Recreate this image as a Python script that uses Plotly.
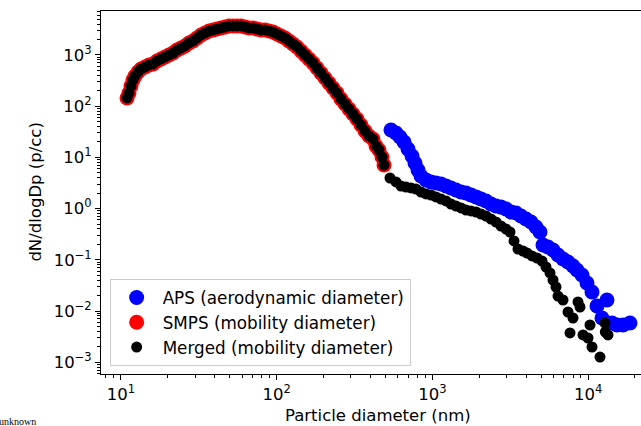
import plotly.graph_objects as go

# SMPS (mobility diameter), nm and dN/dlogDp
smps_d = [10.93, 11.25, 11.59, 11.94, 12.30, 12.86, 13.44, 14.26, 15.13, 16.05,
          17.03, 18.07, 19.17, 20.34, 21.58, 22.89, 24.29, 25.76, 27.33, 29.00,
          30.77, 32.65, 34.63, 36.75, 38.99, 41.37, 43.89, 46.56, 49.40, 52.41,
          55.61, 58.99, 62.59, 66.41, 70.46, 74.75, 79.31, 84.14, 89.27, 94.71,
          100.4, 106.6, 113.1, 120.0, 127.3, 135.0, 143.3, 152.0, 161.3, 171.1,
          181.5, 192.6, 204.3, 216.8, 230.0, 244.0, 258.8, 274.6, 291.3, 309.1,
          327.9, 347.9, 369.1, 391.6, 415.4, 434.3, 454.0, 474.6, 489.0]
smps_n = [144.6, 181.1, 248.0, 324.9, 388.9, 465.6, 532.8, 583.1, 637.9, 667.2,
          763.6, 835.4, 914.1, 1000, 1094, 1252, 1370, 1499, 1716, 1877,
          2148, 2458, 2690, 2943, 3078, 3220, 3368, 3524, 3685, 3685,
          3685, 3685, 3524, 3368, 3368, 3220, 3078, 3078, 2943, 2813,
          2572, 2350, 2148, 1877, 1640, 1433, 1197, 1000, 835.4, 698.0,
          557.2, 445.1, 355.5, 283.9, 226.7, 181.1, 138.2, 110.4, 88.2, 70.4,
          56.2, 42.9, 32.8, 26.2, 22.9, 16.7, 13.95, 10.2, 7.1]

# APS (aerodynamic diameter)
aps_d = [542, 583.9, 619.4, 657.2, 697.2, 739.6, 773.1, 808.1, 844.9, 909.8,
         979.5, 1054.6, 1135.7, 1222.8, 1316.9, 1418.0, 1526.9, 1644.2, 1770.4, 1905.5,
         2051.8, 2210.0, 2379.6, 2562.1, 2758.5, 2970.5, 3198.0, 3443.5, 3706.8, 3992.0,
         4298.2, 4628.0, 4911.0, 5133.0, 5526, 5952, 6409, 6901, 7430, 8000,
         8487, 9138, 9838, 10593, 11406, 12284, 13222, 14237, 15330, 16757, 18582]
aps_n = [34.3, 29.97, 25.0, 20.0, 14.6, 10.65, 7.78, 5.67, 4.33, 3.62,
         3.31, 3.16, 3.02, 2.76, 2.53, 2.31, 2.11, 2.02, 1.84, 1.69,
         1.54, 1.41, 1.23, 1.12, 1.07, 0.982, 0.858, 0.821, 0.717, 0.626,
         0.547, 0.437, 0.349, 0.1945, 0.178, 0.155, 0.124, 0.1036, 0.0906, 0.0757,
         0.0632, 0.0505, 0.0352, 0.0235, 0.01252, 0.0073, 0.0164, 0.00583, 0.00533, 0.00533, 0.00583]

# Merged tail (APS converted to mobility diameter)
tail_d = [534.2, 583.9, 628.6, 676.9, 728.8, 784.6, 844.9, 909.8, 979.5, 1054.6,
          1135.7, 1222.8, 1316.9, 1418, 1526.9, 1644.2, 1770.4, 1905.5, 2051.8, 2210,
          2379.6, 2562.1, 2758.5, 2970.5, 3151, 3343, 3546, 3819, 4051, 4362,
          4697, 5057, 5365, 5692, 5952, 6220, 6409, 6901, 7430, 7652,
          8000, 8612, 8872, 9275, 9986, 10285, 10593, 11926, 12837, 12900, 13422]
tail_n = [3.96, 3.31, 2.76, 2.64, 2.53, 2.41, 2.11, 1.93, 1.84, 1.69,
          1.54, 1.41, 1.23, 1.12, 1.03, 0.939, 0.898, 0.858, 0.784, 0.717,
          0.626, 0.547, 0.457, 0.399, 0.349, 0.233, 0.1625, 0.1485, 0.1358, 0.1187,
          0.1084, 0.0947, 0.0723, 0.0553, 0.0403, 0.0294, 0.0196, 0.0164, 0.00956, 0.00372,
          0.0073, 0.0150, 0.01197, 0.0034, 0.00297, 0.00533, 0.00198, 0.00126, 0.00583, 0.00389, 0.0034]

x_tickvals = [10, 100, 1000, 10000]
x_ticktext = ["10<sup>1</sup>", "10<sup>2</sup>", "10<sup>3</sup>", "10<sup>4</sup>"]
y_tickvals = [1e-3, 1e-2, 1e-1, 1, 10, 100, 1000]
y_ticktext = ["10<sup>−3</sup>", "10<sup>−2</sup>", "10<sup>−1</sup>", "10<sup>0</sup>",
              "10<sup>1</sup>", "10<sup>2</sup>", "10<sup>3</sup>"]

merged_d = smps_d + tail_d
merged_n = smps_n + tail_n

fig = go.Figure()
fig.add_trace(go.Scatter(x=aps_d, y=aps_n, mode="markers", name="APS (aerodynamic diameter)",
                         marker=dict(color="#0000ff", size=15, line=dict(width=0))))
fig.add_trace(go.Scatter(x=smps_d, y=smps_n, mode="markers", name="SMPS (mobility diameter)",
                         marker=dict(color="#ff0000", size=15, line=dict(width=0))))
fig.add_trace(go.Scatter(x=merged_d, y=merged_n, mode="markers", name="Merged (mobility diameter)",
                         marker=dict(color="#000000", size=11, line=dict(width=0))))

font = "DejaVu Sans"
fig.update_layout(
    width=641, height=426,
    margin=dict(l=101, r=0, t=11, b=52, autoexpand=False),
    paper_bgcolor="white", plot_bgcolor="white",
    font=dict(family=font, size=16, color="black"),
    showlegend=True,
    legend=dict(x=0.016, y=0.022, xanchor="left", yanchor="bottom",
                bgcolor="rgba(255,255,255,0.8)", bordercolor="#cccccc", borderwidth=1,
                font=dict(family=font, size=16.8, color="black"),
                itemsizing="trace", itemwidth=42, tracegroupgap=0),
    annotations=[
        dict(text="unknown", xref="paper", yref="paper", x=-0.192, y=-0.13,
             xanchor="left", yanchor="middle", showarrow=False,
             font=dict(family="Liberation Serif", size=10, color="black")),
        dict(text="Particle diameter (nm)", xref="paper", yref="paper", x=0.513, y=-0.113,
             xanchor="center", yanchor="middle", showarrow=False,
             font=dict(family=font, size=16.5, color="black")),
        dict(text="dN/dlogDp (p/cc)", xref="paper", yref="paper", x=-0.122, y=0.5,
             xanchor="center", yanchor="middle", showarrow=False, textangle=-90,
             font=dict(family=font, size=16.5, color="black")),
    ],
)
fig.update_xaxes(type="log", range=[0.8716, 4.3398], showline=True, linecolor="black", linewidth=1,
                 mirror=True, ticks="outside", ticklen=5, tickwidth=1, tickcolor="black",
                 tickvals=x_tickvals, ticktext=x_ticktext, showgrid=False, zeroline=False,
                 automargin=False, tickfont=dict(size=16.5),
                 minor=dict(ticks="outside", ticklen=3, tickcolor="black", dtick="D1", showgrid=False))
fig.update_yaxes(type="log", range=[-3.2305, 3.859], showline=True, linecolor="black", linewidth=1,
                 mirror=False, ticks="outside", ticklen=5, tickwidth=1, tickcolor="black",
                 tickvals=y_tickvals, ticktext=y_ticktext, showgrid=False, zeroline=False,
                 automargin=False, tickfont=dict(size=16.5),
                 minor=dict(ticks="outside", ticklen=3, tickcolor="black", dtick="D1", showgrid=False))

fig.write_html("out.html", config={"displayModeBar": False},
               post_script="document.body.style.margin='0';document.body.style.padding='0';"
                           "document.body.style.overflow='hidden';")
